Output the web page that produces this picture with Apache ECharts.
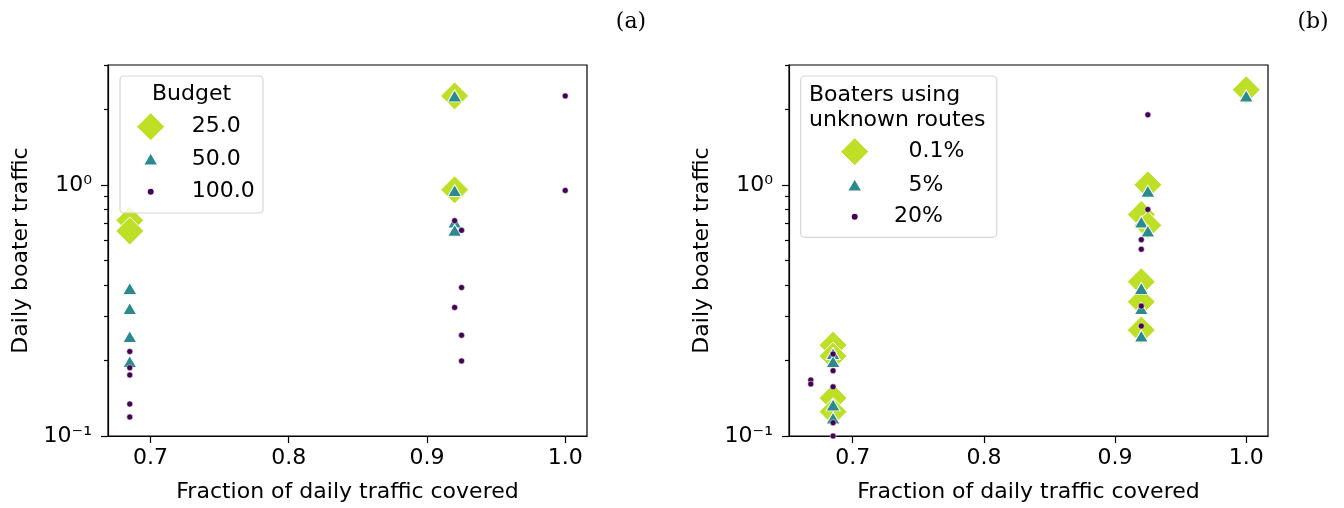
<!DOCTYPE html>
<html><head><meta charset="utf-8">
<script src="https://cdn.jsdelivr.net/npm/echarts@6/dist/echarts.min.js"></script>
<style>html,body{margin:0;padding:0;background:#fff}#c{width:1344px;height:508px}</style>
</head><body><div id="c"></div>
<script>
// ---- data ----
const xTicks = [0.7, 0.8, 0.9, 1.0];
const yTicks = [0.1, 1];
const yTickLabels = ['10\u207B\u00B9', '10\u2070'];
const minorTicks = [0.2, 0.3, 0.4, 0.5, 0.6, 0.7, 0.8, 0.9, 2, 3];
const xRangeA = [0.66925, 1.01575];
const xRangeB = [0.6514, 1.0166];
const yRange = [0.1, 3];

// panel (a): Budget
const budgetNames = ['25.0', '50.0', '100.0'];
const b25X = [0.685, 0.685, 0.92, 0.92];
const b25Y = [0.722, 0.655, 2.26, 0.955];
const b50X = [0.685, 0.685, 0.685, 0.685, 0.92, 0.92, 0.92, 0.92];
const b50Y = [0.387, 0.322, 0.249, 0.198, 2.26, 0.95, 0.711, 0.659];
const b100X = [0.685, 0.685, 0.685, 0.685, 0.685, 0.92, 0.92, 0.925, 0.925, 0.925, 0.925, 1.0, 1.0];
const b100Y = [0.217, 0.187, 0.175, 0.134, 0.119, 0.720, 0.325, 0.659, 0.390, 0.252, 0.199, 2.26, 0.95];

// panel (b): Boaters using unknown routes
const shareNames = ['0.1%', '5%', '20%'];
const s01X = [0.685, 0.685, 0.685, 0.685, 0.92, 0.92, 0.92, 0.92, 0.925, 0.925, 1.0];
const s01Y = [0.230, 0.208, 0.1416, 0.125, 0.762, 0.411, 0.342, 0.264, 1.0, 0.690, 2.39];
const s5X = [0.685, 0.685, 0.685, 0.685, 0.92, 0.92, 0.92, 0.92, 0.925, 0.925, 1.0];
const s5Y = [0.213, 0.198, 0.133, 0.118, 0.711, 0.387, 0.322, 0.250, 0.944, 0.655, 2.26];
const s20X = [0.668, 0.668, 0.685, 0.685, 0.685, 0.685, 0.685, 0.92, 0.92, 0.92, 0.92, 0.925, 0.925];
const s20Y = [0.167, 0.161, 0.212, 0.182, 0.157, 0.113, 0.100, 0.605, 0.554, 0.329, 0.274, 1.90, 0.798];

// ---- styling ----
const FONT = 'DejaVu Sans';
const FS = 22;
const C_DIA = '#bddf26', C_TRI = '#2a8a8e', C_DOT = '#440154';
const zip = (xs, ys) => xs.map((x, i) => [x, ys[i]]);

const grids = [
  {left: 108, top: 65, width: 479, height: 373},
  {left: 789, top: 65, width: 479, height: 373}
];

function xAxisFor(i, range) {
  return {
    type: 'value', gridIndex: i, min: range[0], max: range[1],
    name: 'Fraction of daily traffic covered', nameLocation: 'middle', nameGap: 45,
    nameTextStyle: {fontFamily: FONT, fontSize: FS, color: '#000'},
    axisLine: {show: true, onZero: false, lineStyle: {color: '#000', width: 1.2}},
    axisTick: {show: true, length: 7, lineStyle: {color: '#000', width: 1.2}, customValues: xTicks},
    axisLabel: {fontFamily: FONT, fontSize: FS, color: '#000', margin: 11, customValues: xTicks,
      formatter: v => Number(v).toFixed(1)},
    splitLine: {show: false}
  };
}
function yAxisFor(i) {
  return {
    type: 'log', logBase: 10, gridIndex: i, min: yRange[0], max: yRange[1], position: 'left',
    name: 'Daily boater traffic', nameLocation: 'middle', nameGap: 76,
    nameTextStyle: {fontFamily: FONT, fontSize: FS, color: '#000'},
    axisLine: {show: true, onZero: false, lineStyle: {color: '#000', width: 1.2}},
    axisTick: {show: true, length: 7, lineStyle: {color: '#000', width: 1.2}, customValues: yTicks},
    axisLabel: {fontFamily: FONT, fontSize: FS, color: '#000', margin: 16, customValues: yTicks,
      formatter: v => yTickLabels[yTicks.findIndex(t => Math.abs(t - v) < 1e-9)] ?? ''},
    splitLine: {show: false}
  };
}
// second log axis on the same grid carrying the minor ticks only
function yMinorFor(i) {
  return {
    type: 'log', logBase: 10, gridIndex: i, min: yRange[0], max: yRange[1], position: 'left', offset: 0,
    axisLine: {show: false, onZero: false},
    axisTick: {show: true, length: 4, lineStyle: {color: '#000', width: 1.2}, customValues: minorTicks},
    axisLabel: {show: false, customValues: minorTicks},
    splitLine: {show: false}
  };
}

function scatter(name, gi, data, symbol, size, color) {
  return {
    type: 'scatter', name, xAxisIndex: gi, yAxisIndex: gi, data,
    symbol, symbolSize: size, silent: true,
    itemStyle: {color, opacity: 1, borderColor: '#fff', borderWidth: symbol === 'circle' ? 0.5 : 1}
  };
}

// legend drawn as graphics
function diamond(cx, cy, w) {
  const h = w / 2;
  return {type: 'polygon', shape: {points: [[cx, cy - h], [cx + h, cy], [cx, cy + h], [cx - h, cy]]},
    style: {fill: C_DIA, stroke: '#fff', lineWidth: 1}};
}
function triangle(cx, cy, w, hgt) {
  return {type: 'polygon', shape: {points: [[cx, cy - hgt / 2], [cx + w / 2, cy + hgt / 2], [cx - w / 2, cy + hgt / 2]]},
    style: {fill: C_TRI, stroke: '#fff', lineWidth: 1}};
}
function dot(cx, cy, r) {
  return {type: 'circle', shape: {cx, cy, r}, style: {fill: C_DOT}};
}
function txt(x, y, s, align, font) {
  return {type: 'text', x, y, style: {text: s, fill: '#000', font: font || (FS + 'px "' + FONT + '"'),
    textAlign: align || 'left', textVerticalAlign: 'middle'}};
}
function box(x, y, w, h) {
  return {type: 'rect', shape: {x, y, width: w, height: h, r: 4},
    style: {fill: 'rgba(255,255,255,0.8)', stroke: 'rgba(204,204,204,0.8)', lineWidth: 1.2}};
}

const graphics = [
  // legend (a)
  box(120, 76, 143, 137),
  txt(191.5, 94.5, 'Budget', 'center'),
  diamond(150.7, 126.7, 28), txt(191.7, 126.7, budgetNames[0]),
  triangle(150.7, 159, 14, 12), txt(191.7, 159, budgetNames[1]),
  dot(150.7, 191.7, 3), txt(191.7, 191.7, budgetNames[2]),
  // legend (b)
  box(800.7, 76, 196, 161.3),
  txt(809, 95, 'Boaters using'),
  txt(809, 120, 'unknown routes'),
  diamond(854.7, 151.7, 28), txt(908.5, 151.7, shareNames[0]),
  triangle(854.7, 185, 14, 12), txt(908.5, 185, shareNames[1]),
  dot(854.7, 216.7, 3), txt(894, 216.7, shareNames[2]),
  // panel letters
  txt(631, 22, '(a)', 'center', '22px "DejaVu Serif"'),
  txt(1313, 22, '(b)', 'center', '22px "DejaVu Serif"')
].map(g => Object.assign(g, {z: 100}));

const chart = echarts.init(document.getElementById('c'), null, {renderer: 'canvas'});
chart.setOption({
  backgroundColor: '#fff',
  animation: false,
  textStyle: {fontFamily: FONT},
  grid: grids.map(g => Object.assign({show: true, borderColor: '#000', borderWidth: 1.2, backgroundColor: 'transparent', containLabel: false}, g)),
  xAxis: [xAxisFor(0, xRangeA), xAxisFor(1, xRangeB)],
  yAxis: [yAxisFor(0), yAxisFor(1), yMinorFor(0), yMinorFor(1)],
  series: [
    scatter('25.0', 0, zip(b25X, b25Y), 'diamond', 28, C_DIA),
    scatter('50.0', 0, zip(b50X, b50Y), 'triangle', [14, 12], C_TRI),
    scatter('100.0', 0, zip(b100X, b100Y), 'circle', 6, C_DOT),
    scatter('0.1%', 1, zip(s01X, s01Y), 'diamond', 28, C_DIA),
    scatter('5%', 1, zip(s5X, s5Y), 'triangle', [14, 12], C_TRI),
    scatter('20%', 1, zip(s20X, s20Y), 'circle', 6, C_DOT)
  ],
  graphic: graphics
});
</script></body></html>
